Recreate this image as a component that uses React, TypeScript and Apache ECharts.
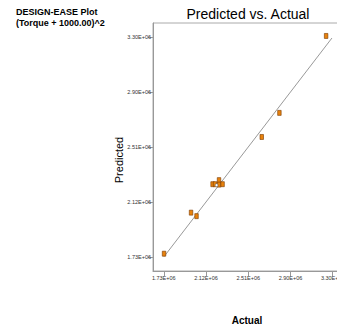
import React, { useEffect, useRef } from "react";
import * as echarts from "echarts";

const tickValues = [1.7275e6, 2.12e6, 2.5125e6, 2.905e6, 3.2975e6];
const tickLabels = ["1.73E+06", "2.12E+06", "2.51E+06", "2.90E+06", "3.30E+06"];
const axisMin = 1.6275e6;
const axisMax = 3.3975e6;

// [actual, predicted]
const points: [number, number][] = [
  [1.73e6, 1.751e6],
  [1.981e6, 2.044e6],
  [2.032e6, 2.019e6],
  [2.181e6, 2.247e6],
  [2.204e6, 2.247e6],
  [2.241e6, 2.276e6],
  [2.241e6, 2.244e6],
  [2.274e6, 2.247e6],
  [2.638e6, 2.584e6],
  [2.802e6, 2.756e6],
  [3.236e6, 3.305e6],
];
const centerPoint: [number, number][] = [[2.218e6, 2.240e6]];
const fitLine: [number, number][] = [
  [1.73e6, 1.73e6],
  [3.29e6, 3.29e6],
];

const fmt = (v: number) => {
  let best = 0;
  for (let i = 1; i < tickValues.length; i++) {
    if (Math.abs(tickValues[i] - v) < Math.abs(tickValues[best] - v)) best = i;
  }
  return tickLabels[best];
};

const FONT = "Liberation Sans, Arial, sans-serif";

export default function App() {
  const ref = useRef<HTMLDivElement>(null);
  useEffect(() => {
    if (!ref.current) return;
    const chart = echarts.init(ref.current, null, { renderer: "svg" });
    const axisCommon = {
      type: "value" as const,
      min: axisMin,
      max: axisMax,
      splitLine: { show: false },
      axisLine: { show: true, lineStyle: { color: "#999", width: 1 } },
      axisTick: {
        show: true,
        length: 5,
        customValues: tickValues,
        lineStyle: { color: "#999", width: 1 },
      },
      axisLabel: {
        customValues: tickValues,
        formatter: (v: number) => fmt(v),
        fontSize: 5.5,
        color: "#333",
        fontFamily: FONT,
      },
    };
    chart.setOption({
      animation: false,
      backgroundColor: "#fff",
      textStyle: { fontFamily: FONT },
      grid: {
        left: 153,
        top: 23,
        width: 190.5,
        height: 248,
        show: true,
        borderColor: "#aaa",
        borderWidth: 1,
        containLabel: false,
        outerBoundsMode: "none",
      },
      xAxis: {
        ...axisCommon,
        axisLabel: { ...axisCommon.axisLabel, margin: 4 },
      },
      yAxis: {
        ...axisCommon,
        axisLabel: { ...axisCommon.axisLabel, margin: 2 },
      },
      graphic: [
        {
          type: "text",
          x: 16,
          y: 12,
          style: {
            text: "DESIGN-EASE Plot",
            font: `bold 9px ${FONT}`,
            fill: "#000",
            verticalAlign: "middle",
            align: "left",
          },
        },
        {
          type: "text",
          x: 16,
          y: 23,
          style: {
            text: "(Torque + 1000.00)^2",
            font: `bold 9px ${FONT}`,
            fill: "#000",
            verticalAlign: "middle",
            align: "left",
          },
        },
        {
          type: "text",
          x: 248,
          y: 14,
          style: {
            text: "Predicted vs. Actual",
            font: `14px ${FONT}`,
            fill: "#000",
            verticalAlign: "middle",
            align: "center",
          },
        },
        {
          type: "text",
          x: 119,
          y: 160,
          rotation: Math.PI / 2,
          style: {
            text: "Predicted",
            font: `11px ${FONT}`,
            fill: "#000",
            verticalAlign: "middle",
            align: "center",
          },
        },
        {
          type: "text",
          x: 247,
          y: 320,
          style: {
            text: "Actual",
            font: `bold 10px ${FONT}`,
            fill: "#000",
            verticalAlign: "middle",
            align: "center",
          },
        },
      ],
      series: [
        {
          type: "line",
          data: fitLine,
          symbol: "none",
          lineStyle: { color: "#999", width: 1 },
          z: 1,
          silent: true,
        },
        {
          type: "scatter",
          data: points,
          symbol: "rect",
          symbolSize: [3.5, 5],
          itemStyle: { color: "#E8820C", borderColor: "#7A3A00", borderWidth: 0.6, opacity: 1 },
          z: 3,
        },
        {
          type: "scatter",
          data: centerPoint,
          symbol: "circle",
          symbolSize: 3,
          itemStyle: { color: "#fff", borderColor: "#555", borderWidth: 0.6, opacity: 1 },
          z: 4,
        },
      ],
    });
    return () => chart.dispose();
  }, []);
  return (
    <div
      ref={ref}
      style={{ position: "fixed", left: 0, top: 0, width: 337, height: 326 }}
    />
  );
}
